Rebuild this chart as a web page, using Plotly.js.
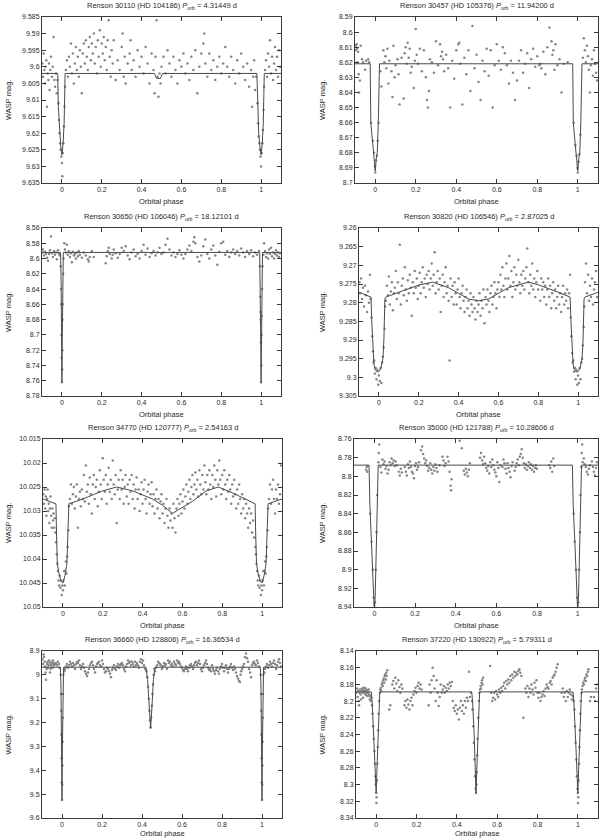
<!DOCTYPE html>
<html>
<head>
<meta charset="utf-8">
<script src="https://cdn.plot.ly/plotly-3.0.1.min.js"></script>
<style>html,body{margin:0;padding:0;background:#fff}#chart{width:600px;height:840px}</style>
</head>
<body>
<div id="chart"></div>
<script>
// ---------- DATA ----------
const stars = ['Renson 30110 (HD 104186)','Renson 30457 (HD 105376)','Renson 30650 (HD 106046)','Renson 30820 (HD 106546)',
               'Renson 34770 (HD 120777)','Renson 35000 (HD 121788)','Renson 36660 (HD 128806)','Renson 37220 (HD 130922)'];
const periods = ['4.31449','11.94200','18.12101','2.87025','2.54163','10.28606','16.36534','5.79311'];
const xTicks = [0,0.2,0.4,0.6,0.8,1];
const yRanges = [[9.585,9.635],[8.59,8.70],[8.56,8.78],[9.26,9.305],[10.015,10.05],[8.76,8.94],[8.9,9.6],[8.14,8.34]];
const yDticks = [0.005,0.01,0.02,0.005,0.005,0.02,0.1,0.02];

const obs1 = [[-0.098,9.599],[-0.095,9.603],[-0.092,9.596],[-0.088,9.601],[-0.085,9.605],[-0.082,9.600],[-0.078,9.598],[-0.075,9.612],[-0.072,9.602],[-0.068,9.604],[-0.065,9.599],[-0.062,9.607],[-0.058,9.601],[-0.055,9.597],[-0.05,9.603],[-0.046,9.600],[-0.042,9.591],[-0.038,9.604],[-0.034,9.606],[-0.03,9.602],[-0.026,9.608],[-0.022,9.604],
[-0.018,9.611],[-0.015,9.616],[-0.012,9.62],[-0.009,9.623],[-0.006,9.625],[-0.003,9.627],[0,9.629],[0.002,9.633],[0.004,9.626],[0.007,9.623],[0.01,9.618],[0.013,9.612],[0.016,9.606],
[0.02,9.601],[0.025,9.598],[0.03,9.603],[0.035,9.597],[0.04,9.600],[0.045,9.593],[0.05,9.602],[0.055,9.596],[0.06,9.605],[0.065,9.599],[0.07,9.594],[0.075,9.601],[0.08,9.597],[0.085,9.603],[0.09,9.595],[0.095,9.600],[0.1,9.608],[0.105,9.596],[0.11,9.593],[0.115,9.599],[0.12,9.592],[0.125,9.597],[0.13,9.601],[0.135,9.594],[0.14,9.591],[0.145,9.598],[0.15,9.593],[0.155,9.596],[0.16,9.590],[0.165,9.599],[0.17,9.594],[0.175,9.602],[0.18,9.592],[0.185,9.597],[0.19,9.589],[0.195,9.600],[0.2,9.593],[0.205,9.596],[0.21,9.591],[0.215,9.598],[0.22,9.594],[0.225,9.601],[0.23,9.592],[0.235,9.586],[0.24,9.597],[0.245,9.603],[0.25,9.595],[0.255,9.599],[0.26,9.592],[0.27,9.604],[0.28,9.598],[0.29,9.601],[0.3,9.594],[0.305,9.590],[0.31,9.603],[0.315,9.597],[0.32,9.605],[0.33,9.599],[0.34,9.596],[0.345,9.592],[0.35,9.601],[0.36,9.598],[0.37,9.603],[0.38,9.595],[0.39,9.600],[0.4,9.597],[0.41,9.602],[0.42,9.594],[0.43,9.599],[0.44,9.605],[0.45,9.596],[0.46,9.601],[0.465,9.608],[0.47,9.597],[0.475,9.586],[0.48,9.603],[0.485,9.609],[0.49,9.602],[0.495,9.605],[0.5,9.600],[0.51,9.597],[0.52,9.602],[0.53,9.595],[0.54,9.599],[0.55,9.603],[0.56,9.597],[0.57,9.601],[0.58,9.605],[0.59,9.598],[0.6,9.600],[0.61,9.596],[0.62,9.602],[0.63,9.599],[0.64,9.604],[0.65,9.597],[0.66,9.601],[0.67,9.595],[0.68,9.608],[0.69,9.600],[0.7,9.596],[0.71,9.593],[0.715,9.590],[0.72,9.599],[0.73,9.603],[0.74,9.596],[0.75,9.601],[0.76,9.598],[0.77,9.604],[0.78,9.600],[0.79,9.597],[0.8,9.602],[0.81,9.599],[0.82,9.594],[0.83,9.600],[0.84,9.603],[0.85,9.597],[0.86,9.601],[0.87,9.605],[0.88,9.598],[0.89,9.602],[0.9,9.596],[0.91,9.600],[0.92,9.604],[0.93,9.599],[0.94,9.606],[0.95,9.601],[0.955,9.612],[0.96,9.603],[0.965,9.598],[0.97,9.607],[0.975,9.603],
[0.982,9.611],[0.985,9.617],[0.988,9.621],[0.991,9.623],[0.994,9.625],[0.997,9.627],[1.0,9.630],[1.003,9.626],[1.006,9.623],[1.009,9.619],[1.012,9.613],[1.015,9.606],
[1.02,9.601],[1.025,9.598],[1.03,9.603],[1.035,9.596],[1.04,9.600],[1.045,9.592],[1.05,9.602],[1.055,9.597],[1.06,9.604],[1.065,9.599],[1.07,9.594],[1.075,9.601],[1.08,9.597],[1.085,9.603],[1.09,9.595],[1.095,9.600]];
const model1 = [[-0.1,9.602],[-0.021,9.602],[-0.018,9.612],[-0.012,9.62],[-0.006,9.624],[0,9.6265],[0.006,9.623],[0.011,9.617],[0.014,9.608],[0.016,9.602],[0.465,9.602],[0.475,9.6035],[0.495,9.6035],[0.505,9.602],[0.979,9.602],[0.982,9.612],[0.988,9.62],[0.994,9.624],[1.0,9.6265],[1.006,9.623],[1.011,9.617],[1.014,9.608],[1.016,9.602],[1.1,9.602]];

const obs2 = [[-0.098,8.612],[-0.095,8.609],[-0.092,8.608],[-0.09,8.611],[-0.088,8.62],[-0.085,8.613],[-0.082,8.628],[-0.08,8.64],[-0.076,8.632],[-0.072,8.609],[-0.065,8.618],[-0.06,8.62],[-0.05,8.625],[-0.045,8.619],[-0.035,8.618],[-0.03,8.62],
[-0.02,8.66],[-0.012,8.672],[-0.006,8.68],[-0.002,8.689],[0.0,8.693],[0.003,8.685],[0.008,8.682],[0.012,8.672],[0.016,8.66],
[0.025,8.626],[0.03,8.636],[0.04,8.612],[0.045,8.62],[0.05,8.616],[0.055,8.624],[0.06,8.611],[0.065,8.634],[0.07,8.619],[0.08,8.626],[0.085,8.643],[0.09,8.609],[0.095,8.63],[0.1,8.622],[0.11,8.618],[0.115,8.628],[0.12,8.648],[0.13,8.617],[0.14,8.644],[0.145,8.614],[0.15,8.61],[0.155,8.621],[0.16,8.607],[0.165,8.617],[0.17,8.611],[0.175,8.627],[0.18,8.623],[0.19,8.637],[0.195,8.619],[0.2,8.598],[0.205,8.615],[0.21,8.621],[0.22,8.611],[0.23,8.626],[0.24,8.612],[0.25,8.63],[0.255,8.645],[0.26,8.65],[0.265,8.639],[0.27,8.618],[0.28,8.62],[0.29,8.627],[0.3,8.606],[0.31,8.622],[0.32,8.608],[0.325,8.616],[0.33,8.613],[0.335,8.618],[0.34,8.626],[0.35,8.615],[0.36,8.624],[0.37,8.65],[0.38,8.619],[0.39,8.631],[0.4,8.612],[0.41,8.608],[0.415,8.607],[0.42,8.621],[0.43,8.648],[0.44,8.617],[0.45,8.628],[0.46,8.612],[0.47,8.639],[0.48,8.596],[0.49,8.624],[0.5,8.615],[0.51,8.633],[0.52,8.645],[0.53,8.619],[0.54,8.626],[0.55,8.611],[0.56,8.629],[0.57,8.612],[0.58,8.65],[0.59,8.622],[0.6,8.608],[0.61,8.619],[0.62,8.625],[0.63,8.61],[0.64,8.614],[0.65,8.622],[0.66,8.634],[0.67,8.619],[0.68,8.627],[0.69,8.645],[0.7,8.632],[0.71,8.619],[0.72,8.612],[0.73,8.627],[0.74,8.621],[0.75,8.614],[0.76,8.637],[0.77,8.618],[0.78,8.611],[0.79,8.623],[0.8,8.616],[0.81,8.622],[0.815,8.621],[0.82,8.624],[0.83,8.613],[0.84,8.628],[0.85,8.61],[0.86,8.597],[0.87,8.606],[0.875,8.615],[0.88,8.612],[0.885,8.625],[0.89,8.608],[0.9,8.622],[0.91,8.618],[0.92,8.64],[0.93,8.621],[0.95,8.62],
[0.98,8.66],[0.988,8.675],[0.994,8.682],[0.998,8.69],[1.0,8.693],[1.004,8.686],[1.008,8.681],[1.013,8.668],
[1.025,8.617],[1.03,8.604],[1.035,8.612],[1.04,8.62],[1.045,8.609],[1.05,8.616],[1.055,8.625],[1.06,8.64],[1.065,8.622],[1.07,8.618],[1.075,8.629],[1.08,8.612],[1.085,8.621],[1.09,8.627],[1.095,8.632]];
const model2 = [[-0.1,8.621],[-0.025,8.621],[-0.022,8.66],[-0.012,8.675],[-0.004,8.686],[0,8.692],[0.005,8.684],[0.01,8.68],[0.015,8.66],[0.019,8.625],[0.021,8.621],[0.975,8.621],[0.978,8.66],[0.988,8.675],[0.996,8.686],[1.0,8.692],[1.005,8.684],[1.01,8.68],[1.015,8.66],[1.019,8.625],[1.021,8.621],[1.1,8.621]];

const obs3 = [[-0.098,8.592],[-0.095,8.588],[-0.09,8.596],[-0.085,8.591],[-0.08,8.594],[-0.075,8.599],[-0.07,8.603],[-0.065,8.594],[-0.06,8.589],[-0.055,8.571],[-0.05,8.593],[-0.045,8.598],[-0.04,8.59],[-0.035,8.595],[-0.03,8.592],[-0.025,8.601],[-0.02,8.589],[-0.015,8.594],[-0.01,8.596],
[-0.006,8.61],[-0.004,8.64],[-0.003,8.66],[-0.002,8.7],[-0.001,8.73],[0.0,8.762],[0.001,8.745],[0.002,8.72],[0.003,8.68],[0.004,8.66],[0.006,8.62],[0.008,8.6],
[0.012,8.58],[0.015,8.588],[0.02,8.592],[0.025,8.582],[0.03,8.595],[0.035,8.59],[0.04,8.598],[0.045,8.593],[0.05,8.605],[0.055,8.591],[0.06,8.596],[0.065,8.594],[0.07,8.6],[0.075,8.592],[0.08,8.597],[0.085,8.59],[0.09,8.595],[0.1,8.599],[0.11,8.592],[0.12,8.596],[0.13,8.601],[0.135,8.604],[0.14,8.598],[0.15,8.59],[0.16,8.598],[0.22,8.606],[0.225,8.597],[0.23,8.59],[0.235,8.586],[0.24,8.594],[0.25,8.6],[0.255,8.595],[0.26,8.588],[0.27,8.593],[0.28,8.599],[0.29,8.594],[0.3,8.586],[0.31,8.59],[0.32,8.584],[0.33,8.596],[0.34,8.601],[0.35,8.592],[0.36,8.588],[0.37,8.597],[0.38,8.594],[0.39,8.6],[0.4,8.59],[0.41,8.582],[0.42,8.595],[0.43,8.587],[0.44,8.598],[0.45,8.593],[0.46,8.59],[0.47,8.596],[0.48,8.592],[0.49,8.586],[0.5,8.594],[0.51,8.592],[0.52,8.582],[0.53,8.574],[0.54,8.588],[0.55,8.596],[0.56,8.592],[0.57,8.598],[0.58,8.594],[0.59,8.589],[0.6,8.595],[0.61,8.6],[0.62,8.594],[0.63,8.588],[0.64,8.583],[0.65,8.59],[0.66,8.578],[0.665,8.572],[0.67,8.58],[0.68,8.598],[0.69,8.604],[0.7,8.596],[0.71,8.584],[0.72,8.575],[0.73,8.594],[0.74,8.6],[0.75,8.588],[0.76,8.583],[0.77,8.596],[0.78,8.608],[0.79,8.591],[0.8,8.58],[0.81,8.578],[0.82,8.595],[0.83,8.59],[0.84,8.598],[0.85,8.592],[0.86,8.588],[0.87,8.594],[0.88,8.59],[0.89,8.596],[0.9,8.587],[0.91,8.592],[0.92,8.598],[0.93,8.59],[0.94,8.594],[0.95,8.589],[0.96,8.597],[0.97,8.592],[0.98,8.595],[0.99,8.59],
[0.994,8.61],[0.996,8.65],[0.997,8.67],[0.998,8.68],[0.999,8.71],[1.0,8.762],[1.001,8.74],[1.002,8.7],[1.003,8.675],[1.005,8.64],[1.007,8.61],
[1.012,8.595],[1.015,8.58],[1.02,8.59],[1.025,8.598],[1.03,8.593],[1.035,8.6],[1.04,8.588],[1.045,8.594],[1.05,8.586],[1.055,8.597],[1.06,8.592],[1.065,8.6],[1.07,8.594],[1.075,8.589],[1.08,8.596],[1.085,8.592],[1.09,8.598],[1.095,8.593]];
const model3 = [[-0.1,8.592],[-0.007,8.592],[-0.004,8.63],[-0.002,8.7],[0,8.762],[0.002,8.7],[0.004,8.63],[0.007,8.592],[0.993,8.592],[0.996,8.63],[0.998,8.7],[1,8.762],[1.002,8.7],[1.004,8.63],[1.007,8.592],[1.1,8.592]];

const obs4 = [[-0.098,9.2745],[-0.095,9.2775],[-0.09,9.2735],[-0.085,9.279],[-0.08,9.276],[-0.075,9.281],[-0.07,9.2755],[-0.065,9.278],[-0.06,9.2825],[-0.055,9.277],[-0.05,9.28],[-0.045,9.2725],[-0.042,9.279],
[-0.037,9.284],[-0.034,9.289],[-0.03,9.293],[-0.027,9.296],[-0.024,9.2955],[-0.02,9.299],[-0.016,9.2975],[-0.012,9.3005],[-0.008,9.298],[-0.004,9.302],[0,9.2995],[0.004,9.301],[0.008,9.2975],[0.012,9.3015],[0.016,9.296],[0.02,9.2945],[0.024,9.292],[0.028,9.287],[0.031,9.281],
[0.035,9.2795],[0.04,9.2755],[0.045,9.278],[0.05,9.273],[0.055,9.2805],[0.06,9.277],[0.065,9.2745],[0.07,9.282],[0.075,9.2775],[0.08,9.276],[0.085,9.2715],[0.09,9.279],[0.095,9.2745],[0.1,9.2775],[0.105,9.2645],[0.11,9.2805],[0.115,9.2755],[0.12,9.2735],[0.125,9.278],[0.13,9.2705],[0.135,9.2765],[0.14,9.2795],[0.145,9.274],[0.15,9.2775],[0.155,9.2725],[0.16,9.276],[0.165,9.2835],[0.17,9.2745],[0.175,9.2775],[0.18,9.2715],[0.185,9.276],[0.19,9.2735],[0.195,9.279],[0.2,9.2755],[0.205,9.272],[0.21,9.2775],[0.215,9.2745],[0.22,9.2705],[0.225,9.276],[0.23,9.2735],[0.235,9.2785],[0.24,9.2725],[0.245,9.275],[0.25,9.2715],[0.255,9.2765],[0.26,9.2735],[0.265,9.2695],[0.27,9.2755],[0.275,9.2725],[0.28,9.2665],[0.285,9.2775],[0.29,9.2745],[0.295,9.2715],[0.3,9.2765],[0.305,9.2735],[0.31,9.2825],[0.315,9.2755],[0.32,9.2725],[0.325,9.2785],[0.33,9.2745],[0.335,9.2705],[0.34,9.2775],[0.345,9.2755],[0.35,9.2795],[0.355,9.2955],[0.36,9.2735],[0.365,9.2785],[0.37,9.2755],[0.375,9.2805],[0.38,9.2745],[0.385,9.2775],[0.39,9.2805],[0.395,9.2765],[0.4,9.2735],[0.405,9.2785],[0.41,9.2815],[0.415,9.2775],[0.42,9.2755],[0.425,9.2795],[0.43,9.2825],[0.435,9.2785],[0.44,9.2765],[0.445,9.2815],[0.45,9.2795],[0.455,9.2835],[0.46,9.2775],[0.465,9.2805],[0.47,9.2825],[0.475,9.2785],[0.48,9.2815],[0.485,9.2845],[0.49,9.2795],[0.495,9.2825],[0.5,9.2805],[0.505,9.2775],[0.51,9.2835],[0.515,9.2795],[0.52,9.2815],[0.525,9.2765],[0.53,9.2855],[0.535,9.2785],[0.54,9.2805],[0.545,9.2765],[0.55,9.2795],[0.555,9.2825],[0.56,9.2775],[0.565,9.2755],[0.57,9.2805],[0.575,9.2785],[0.58,9.2745],[0.585,9.2775],[0.59,9.2815],[0.595,9.2765],[0.6,9.2745],[0.605,9.2785],[0.61,9.2725],[0.615,9.2765],[0.62,9.2705],[0.625,9.2755],[0.63,9.2785],[0.635,9.2735],[0.64,9.2695],[0.645,9.2765],[0.65,9.2735],[0.655,9.2675],[0.66,9.2755],[0.665,9.2715],[0.67,9.2785],[0.675,9.2745],[0.68,9.2705],[0.685,9.2765],[0.69,9.2725],[0.695,9.2755],[0.7,9.2685],[0.705,9.2745],[0.71,9.2775],[0.715,9.2725],[0.72,9.2755],[0.725,9.2715],[0.73,9.2765],[0.735,9.2735],[0.74,9.2705],[0.745,9.2655],[0.75,9.2745],[0.755,9.2775],[0.76,9.2725],[0.765,9.2755],[0.77,9.2695],[0.775,9.2765],[0.78,9.2735],[0.785,9.2785],[0.79,9.2745],[0.795,9.2715],[0.8,9.2765],[0.81,9.2795],[0.815,9.2735],[0.82,9.2765],[0.825,9.2745],[0.83,9.2785],[0.835,9.2755],[0.84,9.2805],[0.845,9.2765],[0.85,9.2735],[0.855,9.2785],[0.86,9.2755],[0.865,9.2815],[0.87,9.2775],[0.875,9.2745],[0.88,9.2795],[0.885,9.2765],[0.89,9.2815],[0.895,9.2785],[0.9,9.2755],[0.905,9.2805],[0.91,9.2775],[0.915,9.2825],[0.92,9.2785],[0.925,9.2755],[0.93,9.2805],[0.935,9.2775],[0.94,9.2795],[0.945,9.2765],[0.95,9.2815],[0.955,9.2775],[0.96,9.2725],
[0.963,9.284],[0.966,9.289],[0.97,9.2935],[0.973,9.296],[0.976,9.2955],[0.98,9.2985],[0.984,9.2975],[0.988,9.3005],[0.992,9.298],[0.996,9.302],[1.0,9.2995],[1.004,9.3015],[1.008,9.2975],[1.012,9.3005],[1.016,9.296],[1.02,9.295],[1.024,9.2915],[1.028,9.2865],[1.031,9.281],
[1.035,9.2745],[1.04,9.2695],[1.045,9.2775],[1.05,9.2725],[1.055,9.2795],[1.06,9.2755],[1.065,9.2785],[1.07,9.2735],[1.075,9.2805],[1.08,9.2765],[1.085,9.2745],[1.09,9.2715],[1.095,9.2785]];
const model4 = [[-0.1,9.2772],[-0.04,9.2785],[-0.035,9.286],[-0.03,9.293],[-0.025,9.2965],[-0.02,9.2978],[-0.01,9.2985],[0,9.2985],[0.01,9.2975],[0.02,9.295],[0.025,9.29],[0.03,9.279],[0.035,9.2785],[0.1,9.2772],[0.2,9.2753],[0.27,9.2745],[0.35,9.276],[0.45,9.279],[0.5,9.2795],[0.55,9.279],[0.65,9.276],[0.75,9.2745],[0.8,9.2752],[0.9,9.2772],[0.96,9.2785],[0.965,9.286],[0.97,9.293],[0.975,9.2965],[0.98,9.2978],[0.99,9.2985],[1.0,9.2985],[1.01,9.2975],[1.02,9.295],[1.025,9.29],[1.03,9.279],[1.035,9.2785],[1.1,9.2772]];

const obs5 = [[-0.098,10.0265],[-0.095,10.0285],[-0.092,10.0255],[-0.089,10.0295],[-0.086,10.027],[-0.083,10.031],[-0.08,10.0275],[-0.077,10.0255],[-0.074,10.03],[-0.071,10.0285],[-0.068,10.0325],[-0.065,10.0295],[-0.062,10.027],[-0.059,10.031],[-0.056,10.0335],[-0.053,10.0295],[-0.05,10.032],[-0.047,10.0305],[-0.044,10.0335],[-0.041,10.0315],[-0.038,10.0345],
[-0.034,10.0365],[-0.031,10.039],[-0.028,10.041],[-0.025,10.0425],[-0.022,10.0445],[-0.019,10.0455],[-0.016,10.0435],[-0.013,10.046],[-0.01,10.0445],[-0.006,10.0475],[-0.003,10.0455],[0,10.0465],[0.003,10.0445],[0.006,10.0425],[0.009,10.0455],[0.012,10.0425],[0.015,10.0405],[0.018,10.043],[0.021,10.0395],[0.024,10.0375],[0.027,10.034],
[0.03,10.029],[0.035,10.0275],[0.04,10.0245],[0.045,10.0285],[0.05,10.0265],[0.055,10.025],[0.06,10.0295],[0.065,10.027],[0.07,10.0245],[0.075,10.0335],[0.08,10.0275],[0.085,10.026],[0.09,10.029],[0.095,10.0255],[0.1,10.0275],[0.105,10.0225],[0.11,10.028],[0.115,10.0205],[0.12,10.026],[0.125,10.0245],[0.13,10.0285],[0.135,10.023],[0.14,10.0265],[0.145,10.0305],[0.15,10.0245],[0.155,10.0225],[0.16,10.0275],[0.165,10.025],[0.17,10.0235],[0.175,10.029],[0.18,10.026],[0.185,10.0215],[0.19,10.0245],[0.195,10.0275],[0.2,10.019],[0.205,10.0235],[0.21,10.026],[0.215,10.0225],[0.22,10.0285],[0.225,10.0245],[0.23,10.021],[0.235,10.026],[0.24,10.0235],[0.245,10.0275],[0.25,10.0195],[0.255,10.0245],[0.26,10.0265],[0.265,10.0225],[0.27,10.0325],[0.275,10.0255],[0.28,10.0235],[0.285,10.0275],[0.29,10.0215],[0.295,10.0255],[0.3,10.0235],[0.305,10.0285],[0.31,10.025],[0.315,10.0225],[0.32,10.027],[0.325,10.0245],[0.33,10.0285],[0.335,10.0235],[0.34,10.026],[0.345,10.0225],[0.35,10.0275],[0.355,10.0245],[0.36,10.0295],[0.365,10.0255],[0.37,10.023],[0.375,10.0275],[0.38,10.0255],[0.385,10.03],[0.39,10.0265],[0.395,10.024],[0.4,10.0285],[0.405,10.0255],[0.41,10.0235],[0.415,10.0275],[0.42,10.0305],[0.425,10.026],[0.43,10.0245],[0.435,10.0285],[0.44,10.0265],[0.445,10.024],[0.45,10.029],[0.455,10.0265],[0.46,10.0305],[0.465,10.0275],[0.47,10.0255],[0.475,10.0295],[0.48,10.0275],[0.485,10.0315],[0.49,10.028],[0.495,10.0265],[0.5,10.0305],[0.505,10.0285],[0.51,10.0325],[0.515,10.0295],[0.52,10.0275],[0.525,10.031],[0.53,10.0335],[0.535,10.0295],[0.54,10.032],[0.545,10.0305],[0.55,10.0335],[0.555,10.0285],[0.56,10.0315],[0.565,10.0345],[0.57,10.0295],[0.575,10.0275],[0.58,10.031],[0.585,10.0285],[0.59,10.0265],[0.595,10.0305],[0.6,10.028],[0.605,10.0255],[0.61,10.0295],[0.615,10.027],[0.62,10.0245],[0.625,10.0285],[0.63,10.026],[0.635,10.0235],[0.64,10.0275],[0.645,10.025],[0.65,10.0225],[0.655,10.0265],[0.66,10.0245],[0.665,10.022],[0.67,10.0255],[0.675,10.0235],[0.68,10.027],[0.685,10.0215],[0.69,10.0245],[0.695,10.0265],[0.7,10.0225],[0.705,10.0255],[0.71,10.0205],[0.715,10.024],[0.72,10.0265],[0.725,10.0225],[0.73,10.0255],[0.735,10.0215],[0.74,10.0245],[0.745,10.0275],[0.75,10.0225],[0.755,10.025],[0.76,10.0205],[0.765,10.0235],[0.77,10.027],[0.775,10.0215],[0.78,10.0245],[0.785,10.0195],[0.79,10.0235],[0.795,10.0265],[0.8,10.0225],[0.805,10.0255],[0.81,10.0215],[0.815,10.0245],[0.82,10.0275],[0.825,10.0235],[0.83,10.026],[0.835,10.0225],[0.84,10.0255],[0.845,10.0285],[0.85,10.0245],[0.855,10.027],[0.86,10.0235],[0.865,10.0265],[0.87,10.0295],[0.875,10.0255],[0.88,10.0285],[0.885,10.0245],[0.89,10.0275],[0.895,10.0305],[0.9,10.0265],[0.905,10.0295],[0.91,10.0275],[0.915,10.0315],[0.92,10.0285],[0.925,10.0305],[0.93,10.0335],[0.935,10.0295],[0.94,10.0325],[0.945,10.0305],[0.95,10.0345],[0.955,10.032],[0.96,10.0355],
[0.966,10.0375],[0.969,10.039],[0.972,10.041],[0.975,10.0425],[0.978,10.0445],[0.981,10.0455],[0.984,10.0435],[0.987,10.046],[0.99,10.0445],[0.994,10.0475],[0.997,10.0455],[1.0,10.0465],[1.003,10.0445],[1.006,10.0425],[1.009,10.0455],[1.012,10.0425],[1.015,10.0405],[1.018,10.043],[1.021,10.0395],[1.024,10.0375],[1.027,10.034],
[1.03,10.0295],[1.035,10.0275],[1.04,10.0245],[1.045,10.0285],[1.05,10.0255],[1.055,10.0235],[1.06,10.0275],[1.065,10.0305],[1.07,10.0255],[1.075,10.0275],[1.08,10.0245],[1.085,10.0285],[1.09,10.0265],[1.095,10.0205]];
const model5 = [[-0.1,10.0275],[-0.035,10.0285],[-0.032,10.035],[-0.028,10.041],[-0.02,10.043],[-0.01,10.0445],[0,10.045],[0.01,10.0435],[0.02,10.041],[0.025,10.036],[0.03,10.0285],[0.1,10.0275],[0.2,10.0258],[0.27,10.025],[0.35,10.0258],[0.45,10.0275],[0.5,10.0288],[0.55,10.0305],[0.58,10.0298],[0.65,10.028],[0.72,10.0258],[0.78,10.025],[0.85,10.0262],[0.93,10.0278],[0.965,10.0285],[0.968,10.035],[0.972,10.041],[0.98,10.043],[0.99,10.0445],[1.0,10.045],[1.01,10.0435],[1.02,10.041],[1.025,10.036],[1.03,10.0285],[1.1,10.0275]];

const obs6 = [[-0.04,8.793],[-0.038,8.79],[-0.035,8.795],[-0.033,8.789],
[-0.02,8.84],[-0.014,8.87],[-0.008,8.9],[-0.003,8.93],[0.003,8.935],[0.007,8.9],[0.011,8.86],[0.014,8.82],
[0.02,8.785],[0.022,8.775],[0.024,8.766],[0.03,8.79],[0.035,8.796],[0.04,8.782],[0.045,8.787],[0.05,8.784],[0.055,8.792],[0.06,8.789],[0.065,8.797],[0.07,8.793],[0.075,8.785],[0.08,8.788],[0.085,8.781],[0.09,8.786],[0.095,8.783],[0.1,8.789],[0.105,8.784],[0.11,8.788],[0.12,8.795],[0.125,8.799],[0.13,8.792],[0.135,8.796],[0.15,8.79],[0.155,8.795],[0.16,8.799],[0.165,8.787],[0.17,8.791],[0.175,8.784],[0.18,8.79],[0.185,8.795],[0.19,8.797],[0.195,8.802],[0.2,8.789],[0.205,8.786],[0.21,8.793],[0.215,8.79],[0.22,8.785],[0.23,8.772],[0.235,8.768],[0.24,8.776],[0.245,8.781],[0.25,8.786],[0.255,8.783],[0.26,8.789],[0.265,8.794],[0.27,8.791],[0.275,8.786],[0.28,8.793],[0.285,8.797],[0.29,8.79],[0.295,8.794],[0.3,8.787],[0.305,8.791],[0.31,8.795],[0.32,8.788],[0.335,8.779],[0.34,8.783],[0.345,8.789],[0.35,8.786],[0.36,8.779],[0.365,8.784],[0.37,8.795],[0.375,8.81],[0.378,8.815],[0.38,8.803],[0.42,8.762],[0.43,8.77],[0.44,8.794],[0.445,8.798],[0.45,8.792],[0.455,8.796],[0.46,8.8],[0.465,8.793],[0.47,8.786],[0.52,8.78],[0.525,8.775],[0.53,8.783],[0.535,8.787],[0.54,8.779],[0.545,8.786],[0.55,8.791],[0.555,8.794],[0.56,8.789],[0.565,8.797],[0.57,8.785],[0.575,8.79],[0.58,8.782],[0.585,8.788],[0.59,8.793],[0.595,8.796],[0.6,8.8],[0.605,8.785],[0.61,8.791],[0.615,8.806],[0.62,8.788],[0.63,8.79],[0.635,8.782],[0.64,8.786],[0.645,8.792],[0.65,8.797],[0.655,8.786],[0.66,8.791],[0.665,8.795],[0.67,8.801],[0.675,8.789],[0.68,8.785],[0.69,8.794],[0.695,8.79],[0.7,8.786],[0.705,8.782],[0.71,8.788],[0.715,8.779],[0.72,8.776],[0.725,8.771],[0.73,8.78],[0.735,8.786],[0.74,8.791],[0.745,8.787],[0.75,8.793],[0.755,8.789],[0.76,8.785],[0.765,8.791],[0.77,8.787],[0.775,8.793],[0.78,8.789],[0.785,8.795],[0.79,8.791],[0.795,8.788],[0.8,8.792],[0.86,8.788],[0.865,8.791],[0.87,8.784],[0.875,8.795],[0.88,8.781],[0.885,8.789],
[0.98,8.84],[0.986,8.87],[0.992,8.9],[0.997,8.93],[1.003,8.935],[1.007,8.9],[1.011,8.86],[1.014,8.82],
[1.018,8.79],[1.02,8.775],[1.022,8.766],[1.025,8.785],[1.03,8.781],[1.035,8.787],[1.04,8.79],[1.045,8.795],[1.05,8.798],[1.055,8.792],[1.06,8.788],[1.07,8.784],[1.075,8.79],[1.08,8.795],[1.085,8.799],[1.09,8.791],[1.095,8.785]];
const model6 = [[-0.1,8.788],[-0.026,8.788],[-0.022,8.83],[-0.012,8.88],[-0.004,8.92],[0,8.945],[0.004,8.93],[0.01,8.88],[0.016,8.8],[0.019,8.788],[0.974,8.788],[0.978,8.83],[0.988,8.88],[0.996,8.92],[1.0,8.945],[1.004,8.93],[1.01,8.88],[1.016,8.8],[1.019,8.788],[1.1,8.788]];

const obs7 = [[-0.098,8.935],[-0.095,8.955],[-0.092,8.915],[-0.09,8.925],[-0.087,8.945],[-0.085,8.965],[-0.082,8.99],[-0.08,9.02],[-0.077,8.975],[-0.075,8.955],[-0.072,8.945],[-0.07,8.97],[-0.067,8.96],[-0.065,8.94],[-0.062,8.95],[-0.06,8.99],[-0.057,8.975],[-0.055,8.96],[-0.052,8.945],[-0.05,8.955],[-0.047,8.97],[-0.045,8.94],[-0.042,8.95],[-0.04,8.96],[-0.035,8.955],[-0.03,8.95],[-0.025,8.96],[-0.02,8.945],[-0.015,8.955],[-0.012,8.97],
[-0.007,9.0],[-0.005,9.08],[-0.004,9.15],[-0.003,9.25],[-0.002,9.35],[-0.001,9.45],[0,9.525],[0.001,9.46],[0.002,9.38],[0.003,9.28],[0.004,9.18],[0.005,9.08],[0.007,9.0],
[0.012,8.985],[0.015,8.975],[0.02,8.965],[0.025,8.955],[0.03,8.97],[0.035,8.96],[0.04,8.945],[0.045,8.955],[0.05,8.965],[0.055,8.95],[0.06,8.96],[0.065,8.975],[0.07,8.955],[0.075,8.945],[0.08,8.95],[0.085,8.94],[0.09,8.96],[0.095,8.975],[0.1,8.965],[0.105,8.955],[0.11,8.97],[0.115,8.985],[0.12,8.995],[0.125,9.005],[0.13,8.99],[0.135,8.975],[0.14,8.96],[0.145,8.95],[0.15,8.945],[0.155,8.96],[0.16,8.975],[0.165,8.99],[0.17,8.965],[0.175,8.955],[0.18,8.95],[0.185,8.945],[0.19,8.96],[0.195,8.965],[0.2,8.94],[0.205,8.955],[0.21,8.975],[0.215,8.99],[0.22,8.985],[0.225,8.97],[0.23,8.975],[0.235,8.985],[0.24,8.995],[0.245,9.01],[0.25,8.98],[0.255,8.97],[0.26,8.96],[0.265,8.975],[0.27,8.98],[0.275,8.965],[0.28,8.955],[0.285,8.97],[0.29,8.96],[0.295,8.955],[0.3,8.95],[0.305,8.96],[0.31,8.975],[0.315,8.985],[0.32,8.965],[0.325,8.955],[0.33,8.94],[0.335,8.95],[0.34,8.945],[0.345,8.96],[0.35,8.945],[0.355,8.955],[0.36,8.965],[0.365,8.945],[0.37,8.96],[0.375,8.95],[0.38,8.96],[0.385,8.97],[0.39,8.945],[0.395,8.935],[0.4,8.95],[0.405,8.94],[0.41,8.96],[0.415,8.975],
[0.422,8.985],[0.426,9.01],[0.43,9.05],[0.434,9.1],[0.437,9.15],[0.44,9.19],[0.443,9.22],[0.446,9.18],[0.449,9.13],[0.452,9.08],[0.455,9.04],[0.458,9.0],[0.462,8.975],
[0.465,8.985],[0.47,8.97],[0.475,8.96],[0.48,8.945],[0.485,8.95],[0.49,8.955],[0.495,8.96],[0.5,8.975],[0.505,8.965],[0.51,8.95],[0.515,8.96],[0.52,8.955],[0.525,8.975],[0.53,8.94],[0.535,8.95],[0.54,8.945],[0.545,8.96],[0.55,8.955],[0.555,8.965],[0.56,8.945],[0.565,8.955],[0.57,8.96],[0.575,8.94],[0.58,8.95],[0.585,8.945],[0.59,8.955],[0.595,8.965],[0.6,8.97],[0.605,8.98],[0.61,8.985],[0.615,8.975],[0.62,8.965],[0.625,8.975],[0.63,8.985],[0.635,8.97],[0.64,8.96],[0.645,8.955],[0.65,8.965],[0.655,8.975],[0.66,8.96],[0.665,8.95],[0.67,8.945],[0.675,8.96],[0.68,8.95],[0.685,8.94],[0.69,8.955],[0.695,8.975],[0.7,8.985],[0.705,8.97],[0.71,8.96],[0.715,8.95],[0.72,8.94],[0.725,8.955],[0.73,8.97],[0.735,8.98],[0.74,8.975],[0.745,8.985],[0.75,8.96],[0.755,8.975],[0.76,8.985],[0.765,8.995],[0.77,8.98],[0.775,8.97],[0.78,8.985],[0.785,8.995],[0.79,8.975],[0.795,8.965],[0.8,8.955],[0.805,8.97],[0.81,8.985],[0.815,8.97],[0.82,8.96],[0.825,8.975],[0.83,8.99],[0.835,8.975],[0.84,8.965],[0.845,8.955],[0.85,8.97],[0.855,8.98],[0.86,8.965],[0.865,8.975],[0.87,8.99],[0.875,9.005],[0.88,9.015],[0.885,9.025],[0.89,9.03],[0.893,9.0],[0.896,8.985],[0.9,8.975],[0.905,8.965],[0.91,8.955],[0.915,8.925],[0.92,8.91],[0.925,8.93],[0.93,8.945],[0.935,8.975],[0.94,8.99],[0.945,9.01],[0.95,8.96],[0.955,8.95],[0.96,8.945],[0.965,8.955],[0.97,8.96],[0.975,8.94],[0.98,8.95],[0.985,8.965],
[0.993,9.0],[0.995,9.08],[0.996,9.15],[0.997,9.25],[0.998,9.35],[0.999,9.45],[1.0,9.525],[1.001,9.46],[1.002,9.38],[1.003,9.28],[1.004,9.18],[1.005,9.08],[1.007,9.0],
[1.012,8.99],[1.015,8.975],[1.02,8.965],[1.025,8.955],[1.03,8.97],[1.035,8.96],[1.04,8.945],[1.045,8.955],[1.05,8.965],[1.055,8.95],[1.06,8.94],[1.065,8.955],[1.07,8.975],[1.075,8.96],[1.08,8.945],[1.085,8.935],[1.09,8.95],[1.095,8.965]];
const model7 = [[-0.1,8.968],[-0.008,8.968],[-0.005,9.05],[-0.002,9.3],[0,9.525],[0.002,9.3],[0.005,9.05],[0.008,8.968],[0.42,8.968],[0.428,9.02],[0.436,9.13],[0.443,9.225],[0.45,9.13],[0.457,9.02],[0.465,8.968],[0.992,8.968],[0.995,9.05],[0.998,9.3],[1,9.525],[1.002,9.3],[1.005,9.05],[1.008,8.968],[1.1,8.968]];

const obs8 = [[-0.098,8.19],[-0.095,8.185],[-0.092,8.195],[-0.09,8.188],[-0.087,8.2],[-0.085,8.205],[-0.082,8.19],[-0.08,8.186],[-0.077,8.192],[-0.075,8.198],[-0.072,8.188],[-0.07,8.185],[-0.067,8.19],[-0.065,8.196],[-0.062,8.187],[-0.06,8.184],[-0.057,8.191],[-0.055,8.188],[-0.052,8.185],[-0.05,8.193],[-0.047,8.19],[-0.045,8.187],[-0.042,8.194],[-0.04,8.19],[-0.037,8.186],[-0.035,8.192],[-0.032,8.198],[-0.03,8.194],[-0.027,8.2],[-0.025,8.196],
[-0.021,8.205],[-0.018,8.215],[-0.015,8.23],[-0.012,8.245],[-0.009,8.26],[-0.006,8.275],[-0.004,8.29],[-0.002,8.3],[0,8.31],[0.001,8.322],[0.002,8.315],[0.004,8.295],[0.006,8.275],[0.008,8.255],[0.01,8.235],[0.012,8.215],[0.014,8.2],
[0.018,8.19],[0.02,8.186],[0.023,8.184],[0.025,8.188],[0.028,8.18],[0.03,8.178],[0.033,8.182],[0.035,8.175],[0.038,8.173],[0.04,8.178],[0.042,8.17],[0.045,8.168],[0.048,8.174],[0.05,8.166],[0.052,8.17],[0.055,8.163],[0.065,8.21],[0.07,8.205],[0.08,8.18],[0.085,8.176],[0.09,8.185],[0.095,8.172],[0.1,8.179],[0.105,8.188],[0.11,8.175],[0.115,8.183],[0.12,8.19],[0.125,8.18],[0.13,8.185],[0.14,8.205],[0.145,8.2],[0.15,8.208],[0.155,8.198],[0.16,8.204],[0.165,8.21],[0.17,8.2],[0.175,8.196],[0.18,8.205],[0.185,8.192],[0.19,8.188],[0.195,8.184],[0.2,8.19],[0.205,8.182],[0.21,8.178],[0.215,8.185],[0.22,8.18],[0.225,8.186],[0.26,8.205],[0.265,8.18],[0.27,8.19],[0.275,8.175],[0.28,8.16],[0.285,8.17],[0.29,8.185],[0.295,8.2],[0.3,8.175],[0.305,8.19],[0.31,8.206],[0.315,8.195],[0.32,8.18],[0.325,8.19],[0.33,8.186],[0.335,8.182],[0.34,8.19],[0.345,8.184],[0.35,8.188],[0.355,8.18],[0.36,8.185],[0.365,8.178],[0.37,8.182],[0.375,8.177],[0.38,8.2],[0.385,8.208],[0.39,8.212],[0.395,8.205],[0.4,8.215],[0.405,8.21],[0.41,8.222],[0.415,8.208],[0.42,8.2],[0.425,8.212],[0.43,8.205],[0.435,8.215],[0.44,8.2],[0.445,8.208],[0.45,8.196],[0.455,8.2],[0.46,8.165],[0.465,8.195],[0.47,8.19],[0.475,8.2],
[0.478,8.21],[0.481,8.23],[0.484,8.25],[0.487,8.27],[0.49,8.29],[0.493,8.305],[0.495,8.31],[0.497,8.3],[0.499,8.285],[0.501,8.265],[0.503,8.245],[0.506,8.22],[0.509,8.2],
[0.512,8.19],[0.515,8.186],[0.518,8.182],[0.52,8.185],[0.523,8.178],[0.525,8.175],[0.528,8.18],[0.53,8.172],[0.565,8.158],[0.57,8.19],[0.575,8.2],[0.58,8.196],[0.585,8.19],[0.59,8.198],[0.595,8.188],[0.6,8.192],[0.605,8.195],[0.61,8.186],[0.615,8.19],[0.62,8.184],[0.625,8.188],[0.63,8.182],[0.635,8.178],[0.64,8.185],[0.645,8.176],[0.65,8.18],[0.655,8.174],[0.66,8.178],[0.665,8.17],[0.67,8.175],[0.675,8.168],[0.68,8.172],[0.685,8.165],[0.69,8.17],[0.695,8.166],[0.7,8.168],[0.705,8.164],[0.71,8.162],[0.715,8.166],[0.72,8.17],[0.73,8.22],[0.74,8.185],[0.745,8.19],[0.75,8.182],[0.755,8.195],[0.76,8.185],[0.765,8.19],[0.77,8.18],[0.775,8.186],[0.78,8.192],[0.785,8.178],[0.79,8.184],[0.795,8.175],[0.8,8.19],[0.805,8.196],[0.81,8.19],[0.815,8.2],[0.82,8.195],[0.825,8.192],[0.83,8.188],[0.835,8.194],[0.84,8.185],[0.845,8.18],[0.85,8.183],[0.855,8.185],[0.86,8.178],[0.865,8.176],[0.87,8.18],[0.875,8.172],[0.88,8.17],[0.885,8.168],[0.89,8.165],[0.895,8.16],[0.9,8.156],[0.92,8.19],[0.925,8.185],[0.93,8.195],[0.935,8.19],[0.94,8.2],[0.945,8.188],[0.95,8.195],[0.955,8.19],[0.96,8.186],[0.965,8.192],[0.97,8.198],[0.975,8.194],[0.98,8.2],
[0.983,8.21],[0.986,8.23],[0.989,8.25],[0.992,8.27],[0.995,8.29],[0.998,8.305],[1.0,8.31],[1.001,8.322],[1.002,8.315],[1.004,8.295],[1.006,8.275],[1.008,8.255],[1.01,8.235],[1.012,8.215],[1.014,8.2],
[1.018,8.19],[1.02,8.186],[1.023,8.182],[1.026,8.178],[1.03,8.18],[1.033,8.175],[1.036,8.172],[1.04,8.176],[1.043,8.168],[1.046,8.17],[1.05,8.165],[1.053,8.162],[1.06,8.2],[1.065,8.195],[1.08,8.195],[1.085,8.2],[1.09,8.185],[1.095,8.18]];
const model8 = [[-0.1,8.189],[-0.024,8.189],[-0.02,8.2],[-0.012,8.24],[-0.005,8.28],[0,8.31],[0.005,8.275],[0.01,8.23],[0.015,8.195],[0.018,8.189],[0.474,8.189],[0.478,8.2],[0.486,8.24],[0.492,8.285],[0.495,8.31],[0.5,8.275],[0.505,8.23],[0.51,8.195],[0.513,8.189],[0.976,8.189],[0.98,8.2],[0.988,8.24],[0.995,8.28],[1.0,8.31],[1.005,8.275],[1.01,8.23],[1.015,8.195],[1.018,8.189],[1.1,8.189]];

const observations = [obs1,obs2,obs3,obs4,obs5,obs6,obs7,obs8];
const models = [model1,model2,model3,model4,model5,model6,model7,model8];

// ---------- LAYOUT (pixel frames of the 8 panels) ----------
const W = 600, H = 840;
const frames = [ // [left, right, top, bottom] in px
  [42,281,17,183],[355,598,17,183],
  [42,281,228,396],[359,598,228,396],
  [43,282,439,607],[354,598,439,607],
  [42,282,651,818],[356,598,651,818]
];
const FONT = 'Liberation Sans, Arial, Helvetica, sans-serif';
const TXT = '#2a2a2a';
const AX = '#3a3a3a';

const traces = [];
const layout = {
  width: W, height: H,
  margin: {l:0, r:0, t:0, b:0},
  paper_bgcolor: '#fff', plot_bgcolor: '#fff',
  showlegend: false,
  font: {family: FONT, size: 7, color: TXT},
  annotations: []
};

for (let i = 0; i < 8; i++) {
  const n = i === 0 ? '' : String(i + 1);
  const xa = 'x' + n, ya = 'y' + n;
  const [L, R, T, B] = frames[i];
  const obs = observations[i], mod = models[i];
  traces.push({
    type: 'scatter', mode: 'markers', xaxis: xa, yaxis: ya,
    x: obs.map(p => p[0]), y: obs.map(p => p[1]),
    marker: {size: 2.5, color: '#858585'}, hoverinfo: 'skip', cliponaxis: true
  });
  traces.push({
    type: 'scatter', mode: 'lines', xaxis: xa, yaxis: ya,
    x: mod.map(p => p[0]), y: mod.map(p => p[1]),
    line: {color: '#4a4a4a', width: 1}, hoverinfo: 'skip'
  });
  const common = {
    showgrid: false, zeroline: false, showline: true, linecolor: AX, linewidth: 1,
    mirror: 'ticks', ticks: 'inside', ticklen: 4, tickcolor: AX, tickwidth: 1,
    tickfont: {family: FONT, size: 7, color: TXT}, fixedrange: true
  };
  layout['xaxis' + n] = Object.assign({}, common, {
    domain: [L / W, R / W], anchor: ya, range: [-0.1, 1.1],
    tickmode: 'array', tickvals: xTicks
  });
  const yr = yRanges[i];
  layout['yaxis' + n] = Object.assign({}, common, {
    domain: [1 - B / H, 1 - T / H], anchor: xa, range: [yr[1], yr[0]], autorange: false,
    tickmode: 'linear', tick0: yr[0], dtick: yDticks[i]
  });
  const cx = (L + R) / 2 / W;
  layout.annotations.push({
    text: stars[i] + ' <i>P</i><sub>orb</sub> = ' + periods[i] + ' d',
    xref: 'paper', yref: 'paper', x: cx, y: 1 - (T - 11) / H,
    showarrow: false, xanchor: 'center', yanchor: 'middle',
    font: {family: FONT, size: 7.5, color: TXT}
  });
  const xty = (i >= 6) ? B + 15.5 : B + 18;
  layout.annotations.push({
    text: 'Orbital phase', xref: 'paper', yref: 'paper', x: cx, y: 1 - xty / H,
    showarrow: false, xanchor: 'center', yanchor: 'middle',
    font: {family: FONT, size: 7.5, color: TXT}
  });
  const ylx = (i % 2 === 0) ? 8 : 322;
  layout.annotations.push({
    text: 'WASP mag.', xref: 'paper', yref: 'paper', x: ylx / W, y: 1 - (T + B) / 2 / H,
    showarrow: false, xanchor: 'center', yanchor: 'middle', textangle: -90,
    font: {family: FONT, size: 7.5, color: TXT}
  });
}

Plotly.newPlot('chart', traces, layout, {displayModeBar: false, staticPlot: true});
</script>
</body>
</html>
